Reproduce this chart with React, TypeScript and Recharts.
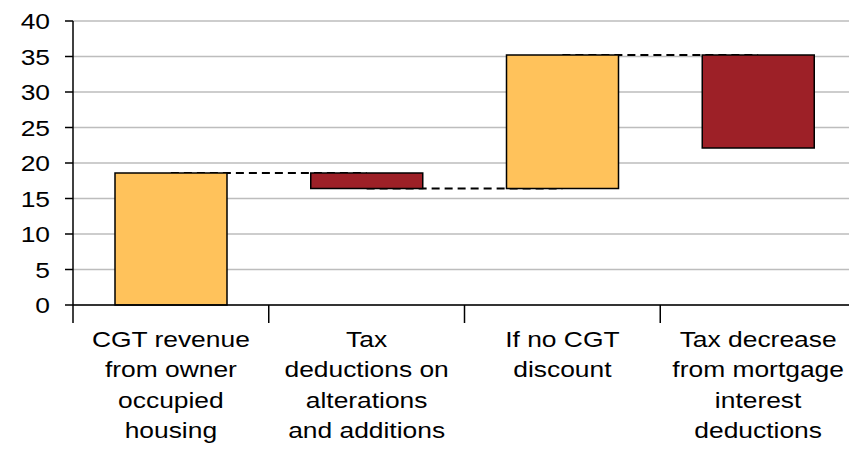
import { Bar, BarChart, CartesianGrid, Cell, ReferenceLine, XAxis, YAxis } from 'recharts';

// Waterfall steps, in the order they appear left to right.
const CATEGORIES = [
  'CGT revenue from owner occupied housing',
  'Tax deductions on alterations and additions',
  'If no CGT discount',
  'Tax decrease from mortgage interest deductions',
];
const LABEL_LINES = [
  ['CGT revenue', 'from owner', 'occupied', 'housing'],
  ['Tax', 'deductions on', 'alterations', 'and additions'],
  ['If no CGT', 'discount'],
  ['Tax decrease', 'from mortgage', 'interest', 'deductions'],
];
const CHANGES = [18.6, -2.2, 18.8, -13.1];
const Y_TICKS = [0, 5, 10, 15, 20, 25, 30, 35, 40];

const UP_COLOR = '#FFC25B';
const DOWN_COLOR = '#9D2027';
const FONT = '"Liberation Sans", Arial, sans-serif';
const TEXT_STRETCH = 1.2;

type Row = { name: string; range: [number, number]; end: number; change: number };

// running total -> [low, high] for each floating bar
const rows: Row[] = [];
let total = 0;
CHANGES.forEach((change, i) => {
  const start = total;
  total = Math.round((total + change) * 10) / 10;
  rows.push({
    name: CATEGORIES[i],
    range: [Math.min(start, total), Math.max(start, total)],
    end: total,
    change,
  });
});

function ValueTick(props: any) {
  const { x, y, payload } = props;
  return (
    <g transform={`translate(${x},${y}) scale(${TEXT_STRETCH},1)`}>
      <text x={0} y={8} textAnchor="end" fontSize={22} fontFamily={FONT} fill="#000">
        {payload.value}
      </text>
    </g>
  );
}

function CategoryTick(props: any) {
  const { x, y, payload, index } = props;
  const half = payload.offset || 98;
  const lines = LABEL_LINES[index] ?? [];
  return (
    <g>
      <line x1={x - half} x2={x - half} y1={y} y2={y + 18} stroke="#000" strokeWidth={1.5} />
      {index === CATEGORIES.length - 1 && (
        <line x1={x + half} x2={x + half} y1={y} y2={y + 18} stroke="#000" strokeWidth={1.5} />
      )}
      <g transform={`translate(${x},${y}) scale(${TEXT_STRETCH},1)`}>
        <text textAnchor="middle" fontSize={22} fontFamily={FONT} fill="#000">
          {lines.map((line, i) => (
            <tspan key={i} x={0} y={42 + i * 30.3}>
              {line}
            </tspan>
          ))}
        </text>
      </g>
    </g>
  );
}

export default function App() {
  return (
    <div style={{ width: 849, height: 441 }}>
      <BarChart
        width={849}
        height={441}
        data={rows}
        margin={{ top: 13, right: 1, bottom: 0, left: 0 }}
      >
        <CartesianGrid horizontal vertical={false} stroke="#bdbdbd" strokeWidth={1.5} />
        <XAxis
          dataKey="name"
          height={144}
          interval={0}
          tickLine={false}
          tickSize={0}
          tickMargin={0}
          axisLine={{ stroke: '#000', strokeWidth: 1.5 }}
          tick={<CategoryTick />}
        />
        <YAxis
          width={65}
          domain={[0, 40]}
          ticks={Y_TICKS}
          interval={0}
          tickSize={8}
          tickMargin={15}
          tickLine={{ stroke: '#000', strokeWidth: 1.5 }}
          axisLine={{ stroke: '#000', strokeWidth: 1.5 }}
          tick={<ValueTick />}
        />
        {/* connectors sit under the bars so only the gaps show */}
        {rows.slice(0, -1).map((row, i) => (
          <ReferenceLine
            key={i}
            zIndex={150}
            segment={[
              { x: row.name, y: row.end },
              { x: rows[i + 1].name, y: row.end },
            ]}
            stroke="#000"
            strokeWidth={2}
            strokeDasharray="8 5"
          />
        ))}
        <Bar dataKey="range" barSize={112} stroke="#000" strokeWidth={1.5} isAnimationActive={false}>
          {rows.map((row, i) => (
            <Cell key={i} fill={row.change >= 0 ? UP_COLOR : DOWN_COLOR} />
          ))}
        </Bar>
      </BarChart>
    </div>
  );
}
